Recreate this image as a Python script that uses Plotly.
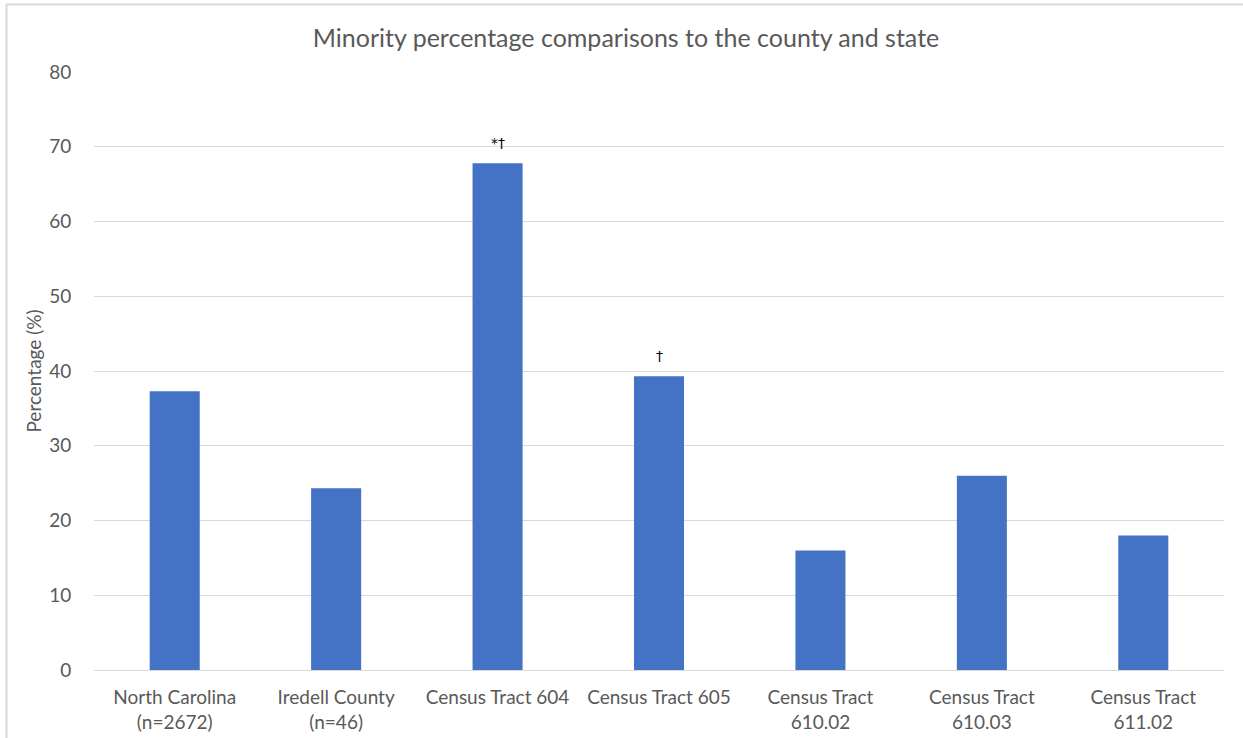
import plotly.graph_objects as go

categories = ["North Carolina<br>(n=2672)", "Iredell County<br>(n=46)", "Census Tract 604",
              "Census Tract 605", "Census Tract<br>610.02", "Census Tract<br>610.03", "Census Tract<br>611.02"]
values = [37.3, 24.3, 67.8, 39.3, 16.0, 26.0, 18.0]
markers = ["", "", "*†", "†", "", "", ""]
y_ticks = [0, 10, 20, 30, 40, 50, 60, 70, 80]

W, H = 1243, 738
ml, mr, mt, mb = 94, 19, 72, 68
pw, ph = W - ml - mr, H - mt - mb

fig = go.Figure()
fig.add_trace(go.Bar(x=categories, y=values, marker=dict(color="#4472C4", line=dict(width=0)),
                     hoverinfo="x+y"))

for c, v, m in zip(categories, values, markers):
    if m:
        fig.add_annotation(x=c, y=v, text=m, showarrow=False, yanchor="bottom", yshift=10,
                           font=dict(family="DejaVu Sans, sans-serif", size=14, color="#000000"))

# chart frame (light gray border, partly cut off)
fig.add_shape(type="rect", xref="paper", yref="paper",
              x0=(6.5 - ml) / pw, x1=1.2, y0=-0.3, y1=(H - mb - 4.5) / ph,
              line=dict(color="#D9D9D9", width=2), fillcolor="rgba(0,0,0,0)", layer="below")

font_color = "#595959"
fig.update_layout(
    width=W, height=H,
    margin=dict(l=ml, r=mr, t=mt, b=mb, autoexpand=False),
    paper_bgcolor="white", plot_bgcolor="white",
    bargap=0.69,
    showlegend=False,
    title=dict(text="Minority percentage comparisons to the county and state",
               x=(626 - ml) / pw, xref="paper", xanchor="center", y=1 - 38 / H, yanchor="middle",
               font=dict(family="Lato, sans-serif", size=25, color=font_color)),
    font=dict(family="Lato, sans-serif", size=19, color=font_color),
    xaxis=dict(showgrid=False, showline=True, linecolor="#D9D9D9", linewidth=1, ticks="",
               ticklabelstandoff=10, automargin=False,
               tickfont=dict(size=19, color=font_color)),
    yaxis=dict(range=[0, 80], tickvals=y_ticks, showgrid=True, gridcolor="#D9D9D9", gridwidth=1,
               zeroline=False, showline=False, ticks="outside", ticklen=18, tickcolor="white",
               automargin=False,
               tickfont=dict(size=19, color=font_color),
               title=dict(text="Percentage (%)", standoff=2, font=dict(size=19, color=font_color))),
)

fig.write_html("out.html")
